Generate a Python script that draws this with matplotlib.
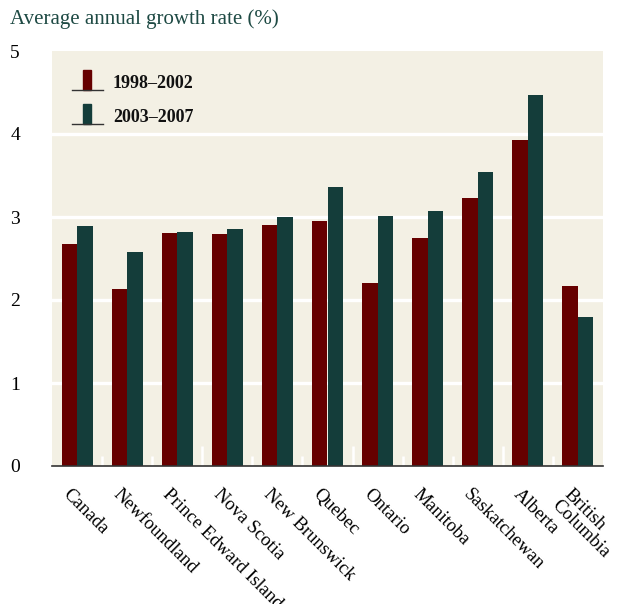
import numpy as np
import matplotlib
matplotlib.use("Agg")
import matplotlib.pyplot as plt
from matplotlib.patches import Rectangle
from matplotlib.lines import Line2D

plt.rcParams['font.family'] = ['Liberation Serif', 'DejaVu Serif']

provinces = ['Canada', 'Newfoundland', 'Prince Edward Island', 'Nova Scotia',
             'New Brunswick', 'Quebec', 'Ontario', 'Manitoba', 'Saskatchewan',
             'Alberta', 'British\nColumbia']
rate_1998_2002 = [2.67, 2.13, 2.81, 2.80, 2.90, 2.95, 2.20, 2.75, 3.23, 3.93, 2.17]
rate_2003_2007 = [2.89, 2.58, 2.82, 2.86, 3.00, 3.36, 3.01, 3.07, 3.54, 4.47, 1.80]
series_labels = ['1998\u20132002', '2003\u20132007']
yticks = [0, 1, 2, 3, 4, 5]

red = '#660000'
green = '#143d3a'
bg = '#f3f0e4'

fig = plt.figure(figsize=(6.37, 6.04), dpi=100)
ax = fig.add_axes([52/637, 1-466/604, (603-52)/637, (466-51)/604])
ax.set_facecolor(bg)

x = np.arange(len(provinces))
w = 0.31
ax.bar(x - w/2, rate_1998_2002, w, color=red, zorder=3)
ax.bar(x + w/2, rate_2003_2007, w, color=green, zorder=3)

# white gridlines
for t in yticks[1:-1]:
    ax.axhline(t, color='white', lw=2.4, zorder=2)

# little white separators between groups (every third one taller)
for i in range(len(provinces) - 1):
    h = 0.24 if (i + 1) % 3 == 0 else 0.12
    ax.plot([i + 0.5, i + 0.5], [0, h], color='white', lw=1.8, zorder=2,
            solid_capstyle='butt')

ax.set_xlim(-0.5, len(provinces) - 0.5)
ax.set_ylim(0, 5)
for s in ['top', 'right', 'left']:
    ax.spines[s].set_visible(False)
ax.spines['bottom'].set_color('#333333')
ax.spines['bottom'].set_linewidth(1.2)
ax.spines['bottom'].set_zorder(4)

ax.set_yticks(yticks)
ax.set_yticklabels([str(t) for t in yticks], fontsize=14, ha='left')
ax.tick_params(axis='y', length=0, pad=30)
ax.set_xticks(x)
ax.set_xticklabels([])
ax.tick_params(axis='x', length=0)

for xi, name in zip(x, provinces):
    ax.annotate(name, xy=(xi, 0), xycoords='data', xytext=(-4, -14),
                textcoords='offset points', rotation=-45, rotation_mode='anchor',
                ha='left', va='top', fontsize=13.5, linespacing=0.95,
                annotation_clip=False)

fig.text(10/637, 1-19/604, 'Average annual growth rate (%)', fontsize=15,
         color='#1e4a44', ha='left', va='center')

# legend drawn by hand
for k, (lab, col) in enumerate(zip(series_labels, [red, green])):
    yb = 90 + k * 34
    fig.add_artist(Rectangle((83/637, 1-yb/604), 8/637, 20/604,
                             transform=fig.transFigure, color=col))
    fig.add_artist(Line2D([72/637, 103/637], [1-yb/604, 1-yb/604],
                          transform=fig.transFigure, color='#333333', lw=1))
    fig.text(113/637, 1-(yb-7)/604, lab, fontsize=13, fontweight='bold',
             ha='left', va='center', color='#111111')

fig.savefig('out.png', dpi=100)
